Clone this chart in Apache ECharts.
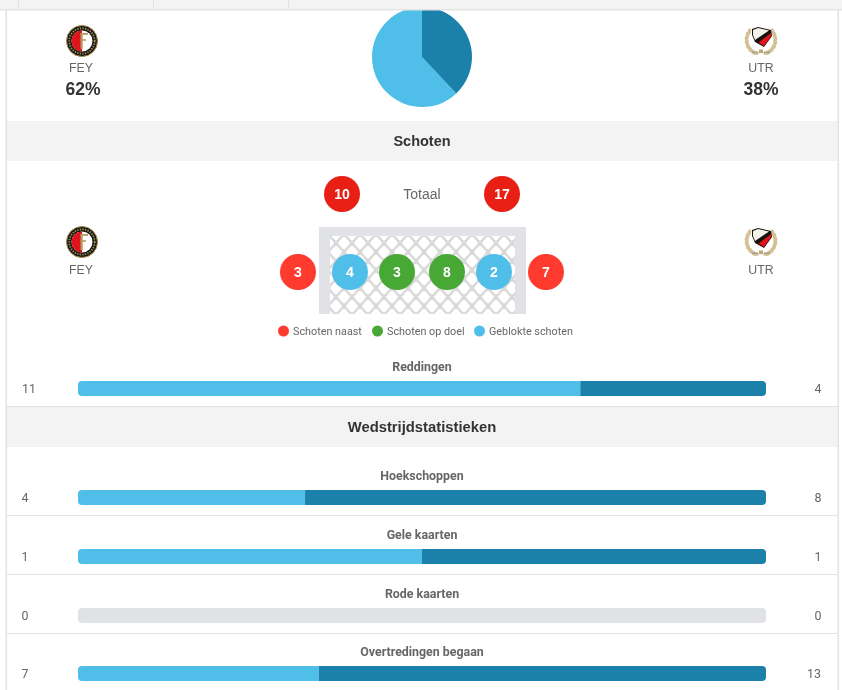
<!DOCTYPE html>
<html><head><meta charset="utf-8">
<style>html,body{margin:0;padding:0;background:#fff}#c{width:842px;height:690px}</style>
<script src="https://cdn.jsdelivr.net/npm/echarts@6/dist/echarts.min.js"></script>
</head><body><div id="c"></div>
<script>
const teams = ['FEY', 'UTR'];
const possession = [62, 38];
const statNames = ['Reddingen', 'Hoekschoppen', 'Gele kaarten', 'Rode kaarten', 'Overtredingen begaan'];
const homeValues = [11, 4, 1, 0, 7];
const awayValues = [4, 8, 1, 0, 13];
const shotsTotal = [10, 17];
const shotsOff = [3, 7];
const shotsOn = [3, 8];
const shotsBlocked = [4, 2];
const legendNames = ['Schoten naast', 'Schoten op doel', 'Geblokte schoten'];

const LIGHT = '#4FBFE9', DARK = '#1B81AA', RED = '#E81F15', ORANGE = '#FF3B30', GREEN = '#47A835', TRACK = '#E1E2E6';
const LINE = '#E3E3E3', BAND = '#F3F3F3', TXT = '#666', STRONG = '#333';
const FONT = 'Roboto, sans-serif', AFONT = '"Liberation Sans", Arial, sans-serif';
const barTops = [381, 490, 549, 608, 666];
const labelY = [368, 477, 536, 595, 653];

function text(x, y, t, size, color, weight, family, align) {
  return {type:'text', x, y, z:30, style:{text:t, fontSize:size, fill:color, fontWeight:weight||'normal',
    fontFamily:family||FONT, align:align||'center', verticalAlign:'middle'}};
}
function rect(x, y, w, h, fill, z) { return {type:'rect', z:z||1, shape:{x,y,width:w,height:h}, style:{fill}}; }
function dot(x, y, r, fill, label) {
  const g = [{type:'circle', z:20, shape:{cx:x, cy:y, r}, style:{fill}}];
  if (label !== undefined) g.push(text(x, y+1, String(label), 14, '#fff', 'bold', AFONT));
  return g;
}
function netTile() {
  const w = 16, h = 18, c = document.createElement('canvas');
  c.width = w; c.height = h;
  const k = c.getContext('2d');
  k.fillStyle = '#D9D9D9'; k.fillRect(0,0,w,h);
  k.fillStyle = '#fff'; k.strokeStyle = '#fff'; k.lineJoin = 'round'; k.lineWidth = 3.5;
  [[0,0],[16,0],[8,9],[0,18],[16,18]].forEach(p => {
    k.beginPath();
    k.moveTo(p[0]-4,p[1]); k.lineTo(p[0],p[1]-4.5); k.lineTo(p[0]+4,p[1]); k.lineTo(p[0],p[1]+4.5);
    k.closePath(); k.fill(); k.stroke();
  });
  return c;
}
function feyCrest(cx, cy) {
  const gold = '#B79A63';
  return [
    {type:'circle', z:20, shape:{cx, cy, r:15.5}, style:{fill:'#17150F', stroke:'#A88F4E', lineWidth:1}},
    {type:'circle', z:21, shape:{cx, cy, r:12.7}, style:{fill:'none', stroke:'#A39160', lineWidth:1.8, lineDash:[1.4,1.2]}},
    {type:'circle', z:21, shape:{cx, cy, r:10.5}, style:{fill:'#fff'}},
    {type:'sector', z:22, shape:{cx, cy, r:10.5, startAngle:Math.PI/2, endAngle:Math.PI*1.5}, style:{fill:'#E0141B'}},
    {type:'rect', z:23, shape:{x:cx-1.5, y:cy-8, width:2.2, height:16}, style:{fill:gold}},
    {type:'rect', z:23, shape:{x:cx-1.5, y:cy-8, width:7.5, height:1.8}, style:{fill:gold}},
    {type:'rect', z:23, shape:{x:cx-1.5, y:cy-1.8, width:5.5, height:1.6}, style:{fill:gold}}
  ];
}
function utrCrest(cx, cy) {
  const out = [];
  const pts = a => a.map(p => [cx+p[0], cy+p[1]]);
  [-1,1].forEach(d => {
    for (let i = 0; i < 7; i++) {
      const a = (-35 + i*17) * Math.PI/180, r = 14.3;
      const lx = cx + d*r*Math.cos(a), ly = cy + 1 + r*Math.sin(a);
      out.push({type:'ellipse', z:20, x:lx, y:ly, rotation:-d*(a+0.35),
        shape:{cx:0, cy:0, rx:1.8, ry:3.6}, style:{fill:'#D3C193'}});
    }
  });
  out.push({type:'polygon', z:21, shape:{points:pts([[-9,-10],[-3,-12],[10,-9],[11,-3],[3,8],[-6,3],[-9,-4]])}, style:{fill:'#15130F'}});
  out.push({type:'polygon', z:22, shape:{points:pts([[-8,-9],[-3,-11],[8,-8.5],[-6,1],[-8,-4]])}, style:{fill:'#F5F2EA'}});
  out.push({type:'polygon', z:22, shape:{points:pts([[10,-6],[10.2,-3],[3,7],[-2.5,3.5]])}, style:{fill:'#E0141B'}});
  out.push({type:'rect', z:22, shape:{x:cx-9, y:cy+12.5, width:6, height:1.5}, style:{fill:'#A6A295'}});
  out.push({type:'rect', z:22, shape:{x:cx-2, y:cy+10.5, width:4, height:3.5}, style:{fill:'#BBA875'}});
  out.push({type:'rect', z:22, shape:{x:cx+3, y:cy+12.5, width:6, height:1.5}, style:{fill:'#A6A295'}});
  return out;
}

const els = [
  rect(0,0,842,690,'#fff',0),
  rect(0,0,842,9,BAND,10), rect(0,9,842,1.5,LINE,11),
  rect(18,0,1,9,LINE,12), rect(153,0,1,9,LINE,12), rect(288,0,1,9,LINE,12),
  rect(5.5,10,1.5,680,'#E2E2E2',12), rect(837.5,10,1.5,680,'#E2E2E2',12),
  rect(7,121,830.5,40,BAND), rect(7,406,830.5,41,BAND),
  rect(7,406,830.5,1,LINE,2), rect(7,515,830.5,1,LINE,2), rect(7,574,830.5,1,LINE,2), rect(7,633,830.5,1,LINE,2),
  rect(319,227,207,87,TRACK,3),
  {type:'rect', z:4, shape:{x:330,y:236,width:185,height:78}, style:{fill:{image:netTile(), repeat:'repeat'}}},
  text(81,68.5,teams[0],12.3,TXT,'normal',AFONT), text(761,68.5,teams[1],12.3,TXT,'normal',AFONT),
  text(83,90,possession[0]+'%',17.5,STRONG,'bold',AFONT), text(761,90,possession[1]+'%',17.5,STRONG,'bold',AFONT),
  text(422,142,'Schoten',14.5,STRONG,'bold',AFONT), text(422,428,'Wedstrijdstatistieken',14.8,STRONG,'bold',AFONT),
  text(422,195,'Totaal',14,TXT,'normal',AFONT),
  text(81,270.5,teams[0],12.3,TXT,'normal',AFONT), text(761,270.5,teams[1],12.3,TXT,'normal',AFONT),
  ...feyCrest(82,41), ...utrCrest(761,39), ...feyCrest(82,242), ...utrCrest(761,240),
  ...dot(342,194,18,RED,shotsTotal[0]), ...dot(502,194,18,RED,shotsTotal[1]),
  ...dot(298,272,18,ORANGE,shotsOff[0]), ...dot(546,272,18,ORANGE,shotsOff[1]),
  ...dot(350,272,18,LIGHT,shotsBlocked[0]), ...dot(494,272,18,LIGHT,shotsBlocked[1]),
  ...dot(397,272,18,GREEN,shotsOn[0]), ...dot(447,272,18,GREEN,shotsOn[1]),
  ...dot(283.5,331,5.5,ORANGE), text(293,332,legendNames[0],10.8,TXT,'normal',FONT,'left'),
  ...dot(377.5,331,5.5,GREEN), text(387,332,legendNames[1],10.8,TXT,'normal',FONT,'left'),
  ...dot(479.5,331,5.5,LIGHT), text(489,332,legendNames[2],10.8,TXT,'normal',FONT,'left')
];
statNames.forEach((n,i) => {
  els.push(text(422,labelY[i],n,12.4,'#666','bold',FONT));
  els.push(text(i===0?29:25,barTops[i]+8.5,String(homeValues[i]),12.4,TXT,'normal',FONT));
  els.push(text(awayValues[i]>9?814:818,barTops[i]+8.5,String(awayValues[i]),12.4,TXT,'normal',FONT));
});

const grids = [], xAxes = [], yAxes = [], series = [];
statNames.forEach((n,i) => {
  const tot = homeValues[i] + awayValues[i];
  const pct = tot ? Math.floor(homeValues[i]/tot*100) : 0;
  grids.push({left:78, width:688, top:barTops[i], height:15});
  xAxes.push({type:'value', gridIndex:i, min:0, max:100, show:false});
  yAxes.push({type:'category', gridIndex:i, data:[n], show:false});
  if (tot) {
    series.push({type:'bar', stack:'s'+i, xAxisIndex:i, yAxisIndex:i, barWidth:15, silent:true, animation:false, z:5,
      data:[pct], itemStyle:{color:LIGHT, borderRadius:[4,0,0,4]}});
    series.push({type:'bar', stack:'s'+i, xAxisIndex:i, yAxisIndex:i, barWidth:15, silent:true, animation:false, z:5,
      data:[100-pct], itemStyle:{color:DARK, borderRadius:[0,4,4,0]}});
  } else {
    series.push({type:'bar', xAxisIndex:i, yAxisIndex:i, barWidth:15, silent:true, animation:false, z:5,
      data:[100], itemStyle:{color:TRACK, borderRadius:4}});
  }
});
series.push({type:'pie', center:[422,57], radius:[0,50], startAngle:90, clockwise:false, silent:true, animation:false, z:2,
  label:{show:false}, labelLine:{show:false},
  data:[{value:possession[0], name:teams[0], itemStyle:{color:LIGHT}}, {value:possession[1], name:teams[1], itemStyle:{color:DARK}}]});

const chart = echarts.init(document.getElementById('c'), null, {renderer:'canvas'});
chart.setOption({animation:false, backgroundColor:'#fff', grid:grids, xAxis:xAxes, yAxis:yAxes, series,
  graphic:{elements:els}});
</script></body></html>
